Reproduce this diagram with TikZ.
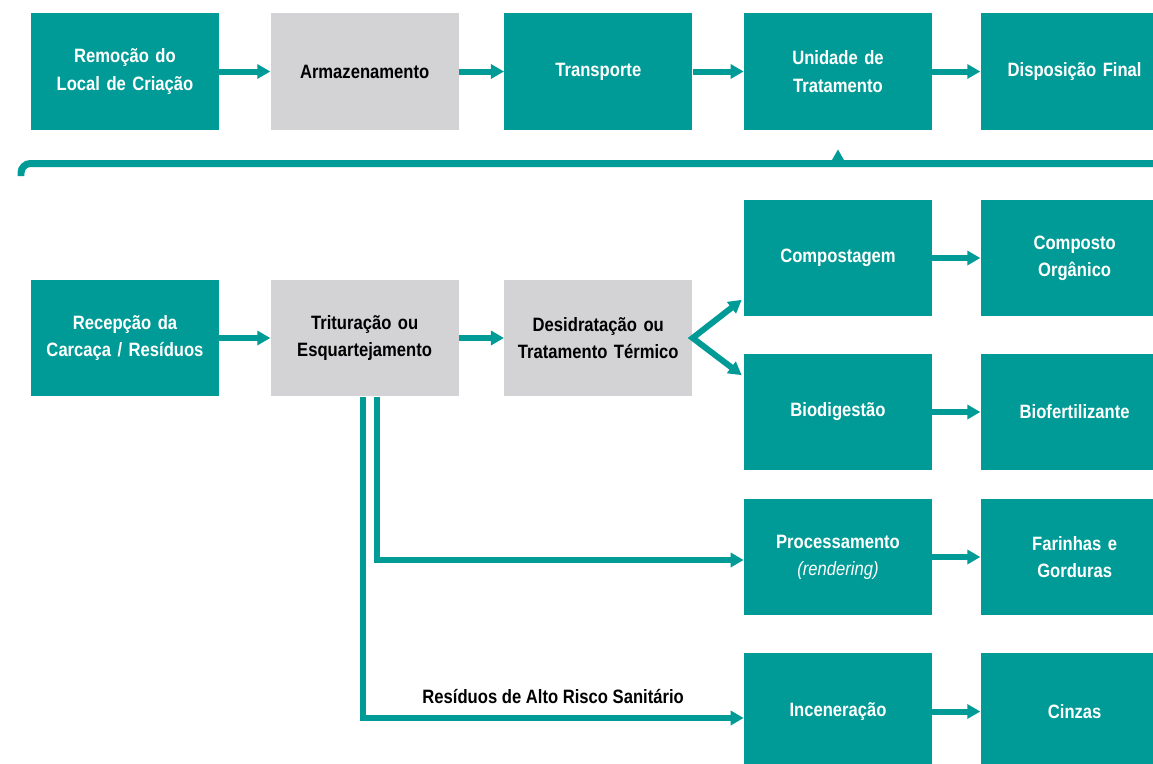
\documentclass[tikz,border=0pt]{standalone}
\usepackage{fontspec}
\setmainfont[FakeStretch=0.86]{Liberation Sans}
\usepackage{tikz}
\usetikzlibrary{positioning, arrows.meta}
\definecolor{verde}{RGB}{0,155,150}
\definecolor{cinza}{RGB}{211,211,213}
\tikzstyle{etapa} = [rectangle, minimum width=3.76cm, minimum height=2.34cm, inner sep=2pt, text width=3.5cm, align=center, fill=verde, text=white, font=\bfseries\fontsize{11}{15.5}\selectfont]
\tikzstyle{etapa_cinza} = [etapa, fill=cinza, text=black]
\tikzstyle{arrow} = [line width=0.12cm, draw=verde, -{Triangle[width=0.28cm, length=0.26cm]}]
\tikzstyle{rotulo} = [inner sep=0pt, text=black, font=\bfseries\fontsize{11}{15}\selectfont]

\begin{document}
\begin{tikzpicture}[x=0.02cm, y=-0.02cm]
\useasboundingbox (0,0) rectangle (1153,764);

% fluxo geral
\node (remocao) [etapa] at (125,71.5) {Remoção do\\Local de Criação};
\node (armaz) [etapa_cinza, right=1.02cm of remocao] {Armazenamento};
\node (transp) [etapa, right=0.9cm of armaz] {Transporte};
\node (unid) [etapa, right=1.02cm of transp] {Unidade de\\Tratamento};
\node (disp) [etapa, right=0.96cm of unid] {Disposição Final};
\draw [arrow] (remocao) -- (armaz);
\draw [arrow] (armaz) -- (transp);
\draw [arrow] (transp) -- (unid);
\draw [arrow] (unid) -- (disp);

% barra
\coordinate (barra_esq) at (21,176);
\coordinate (barra_dir) at (1165,163.5);
\draw [line width=0.14cm, verde, rounded corners=0.19cm] (barra_dir) -- (barra_esq |- barra_dir) -- (barra_esq);
\draw [arrow, -{Triangle[width=0.23cm, length=0.22cm]}, shorten >=0.38cm] (unid.south |- barra_dir) -- (unid.south);

% unidade de tratamento
\node (recep) [etapa] at (125,338) {Recepção da\\Carcaça / Resíduos};
\node (trit) [etapa_cinza, right=1.02cm of recep] {Trituração ou\\Esquartejamento};
\node (desid) [etapa_cinza, right=0.9cm of trit] {Desidratação ou\\Tratamento Térmico};
\draw [arrow] (recep) -- (trit);
\draw [arrow] (trit) -- (desid);

\node (compost) [etapa] at (838,258) {Compostagem};
\node (comporg) [etapa, right=0.96cm of compost] {Composto\\Orgânico};
\node (biodig) [etapa] at (838,412) {Biodigestão};
\node (biofert) [etapa, right=0.96cm of biodig] {Biofertilizante};
\node (proc) [etapa] at (838,557) {Processamento\\{\mdseries\itshape (rendering)}};
\node (farinhas) [etapa, right=0.96cm of proc] {Farinhas e\\Gorduras};
\node (incin) [etapa] at (838,711.5) {Inceneração};
\node (cinzas) [etapa, right=0.96cm of incin] {Cinzas};

\draw [arrow, {Triangle[width=0.28cm, length=0.26cm]}-{Triangle[width=0.28cm, length=0.26cm]}] ([shift={(-2,-17)}]compost.south west) -- (desid.east) -- ([shift={(-2,22)}]biodig.north west);
\draw [arrow] (compost) -- (comporg);
\draw [arrow] (biodig) -- (biofert);
\draw [arrow] (proc) -- (farinhas);
\draw [arrow] (incin) -- (cinzas);

\draw [arrow] ([xshift=0.24cm]trit.south) |- ([yshift=-0.06cm]proc.west);
\draw [arrow] ([xshift=-0.04cm]trit.south) |- node[rotulo, above=0.22cm, pos=0.75] {Resíduos de Alto Risco Sanitário} ([yshift=-0.13cm]incin.west);
\end{tikzpicture}
\end{document}
